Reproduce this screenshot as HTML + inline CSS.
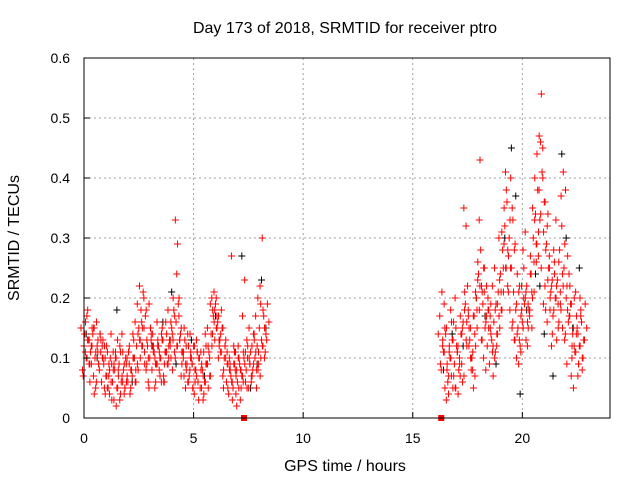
<!DOCTYPE html>
<html><head><meta charset="utf-8"><style>
body{margin:0;background:#fff;}
svg{display:block;font-family:"Liberation Sans",sans-serif;}
</style></head><body>
<svg id="chart" width="640" height="480" xmlns="http://www.w3.org/2000/svg">
<rect width="640" height="480" fill="#fff"/>
<text x="345" y="33" font-size="16" text-anchor="middle">Day 173 of 2018, SRMTID for receiver ptro</text>
<text transform="translate(19,238) rotate(-90)" font-size="16" text-anchor="middle">SRMTID / TECUs</text>
<text x="345" y="471" font-size="16" text-anchor="middle">GPS time / hours</text>
<g id="grid"></g><g id="marks"></g><g id="axes"></g>
</svg>
<script>
const xTicks=[0,5,10,15,20];
const yTicks=[0,0.1,0.2,0.3,0.4,0.5,0.6];
const yTickLabels=["0","0.1","0.2","0.3","0.4","0.5","0.6"];
const redTimes=[0.0,0.1,0.2,0.3,0.4,0.5,0.6,0.7,0.8,0.9,1.0,1.1,1.2,1.3,1.4,1.5,1.6,1.7,1.8,1.9,2.0,2.1,2.2,2.3,2.4,2.5,2.6,2.7,2.8,2.9,3.0,3.1,3.2,3.3,3.4,3.5,3.6,3.7,3.8,3.9,4.0,4.1,4.2,4.3,4.4,4.5,4.6,4.7,4.8,4.9,5.0,5.1,5.2,5.3,5.4,5.5,5.6,5.7,5.8,5.9,6.0,6.1,6.2,6.3,6.4,6.5,6.6,6.7,6.8,6.9,7.0,7.1,7.2,7.3,7.4,7.5,7.6,7.7,7.8,7.9,8.0,8.1,8.2,8.3,
16.3,16.4,16.5,16.6,16.7,16.8,16.9,17.0,17.1,17.2,17.3,17.4,17.5,17.6,17.7,17.8,17.9,18.0,18.1,18.2,18.3,18.4,18.5,18.6,18.7,18.8,18.9,19.0,19.1,19.2,19.3,19.4,19.5,19.6,19.7,19.8,19.9,20.0,20.1,20.2,20.3,20.4,20.5,20.6,20.7,20.8,20.9,21.0,21.1,21.2,21.3,21.4,21.5,21.6,21.7,21.8,21.9,22.0,22.1,22.2,22.3,22.4,22.5,22.6,22.7,22.8];
const redValuesA=[.12,.10,.13,.11,.14,.10,.12,.08,.06,.09,.07,.05,.10,.06,.08,.05,.09,.06,.08,.10,.06,.04,.07,.10,.12,.15,.18,.21,.17,.12,.10,.08,.11,.09,.12,.10,.13,.11,.09,.13,.15,.18,.16,.19,.14,.11,.13,.09,.07,.10,.12,.08,.06,.05,.08,.06,.09,.11,.14,.17,.19,.16,.13,.15,.10,.06,.04,.07,.05,.08,.06,.09,.07,.10,.08,.05,.11,.08,.10,.12,.15,.13,.17,.14,
.08,.11,.14,.06,.10,.13,.09,.12,.08,.14,.16,.19,.22,.13,.10,.17,.20,.24,.28,.19,.15,.12,.09,.13,.16,.19,.21,.24,.28,.32,.36,.30,.25,.21,.18,.15,.12,.16,.19,.22,.18,.24,.30,.34,.38,.33,.41,.36,.29,.25,.21,.17,.20,.23,.28,.32,.25,.20,.16,.19,.14,.11,.15,.12,.16,.13];
const redValuesB=[.16,.18,.06,.15,.04,.16,.09,.13,.10,.04,.11,.08,.03,.09,.02,.07,.04,.11,.05,.07,.12,.08,.13,.06,.08,.10,.12,.09,.13,.19,.14,.12,.06,.13,.07,.15,.09,.14,.12,.10,.20,.33,.29,.13,.09,.15,.08,.12,.11,.05,.06,.11,.10,.09,.04,.12,.05,.07,.18,.13,.15,.12,.18,.08,.13,.09,.08,.03,.09,.02,.10,.05,.11,.06,.12,.09,.07,.13,.05,.09,.10,.18,.11,.19,
.13,.05,.09,.12,.16,.07,.15,.04,.17,.06,.21,.12,.15,.08,.05,.12,.26,.43,.21,.25,.22,.18,.14,.07,.11,.14,.15,.18,.35,.38,.27,.40,.33,.29,.24,.22,.18,.25,.13,.15,.27,.35,.40,.44,.47,.54,.31,.28,.34,.20,.14,.24,.13,.16,.37,.41,.38,.27,.22,.12,.20,.17,.09,.18,.10,.19];
const redValuesC=[.08,.14,.17,.09,.12,.07,.05,.11,.14,.12,.05,.12,.07,.14,.11,.10,.13,.03,.14,.04,.09,.11,.05,.14,.16,.19,.22,.16,.20,.08,.06,.15,.14,.05,.16,.08,.06,.07,.16,.18,.12,.14,.11,.24,.17,.07,.10,.05,.14,.08,.09,.04,.13,.03,.11,.03,.14,.15,.10,.20,.21,.20,.10,.11,.07,.12,.11,.10,.27,.12,.04,.12,.03,.17,.23,.13,.15,.06,.14,.17,.20,.22,.30,.10,
.17,.21,.19,.03,.04,.18,.05,.20,.11,.10,.09,.35,.32,.18,.15,.08,.14,.18,.33,.13,.10,.08,.20,.17,.22,.25,.12,.30,.21,.25,.41,.22,.18,.15,.13,.10,.09,.11,.28,.31,.12,.17,.21,.26,.29,.27,.46,.45,.22,.16,.27,.12,.28,.33,.19,.21,.15,.13,.09,.24,.07,.05,.21,.07,.20,.08];
const redValuesD=[.10,.13,.09,.15,.11,.13,.14,.10,.12,.07,.09,.06,.08,.11,.05,.12,.07,.09,.06,.11,.08,.10,.06,.09,.13,.12,.15,.18,.10,.15,.12,.10,.09,.11,.14,.06,.11,.09,.13,.08,.17,.12,.20,.15,.11,.09,.06,.14,.09,.12,.07,.10,.08,.07,.06,.09,.07,.12,.16,.15,.17,.14,.15,.12,.09,.08,.06,.09,.07,.10,.08,.07,.09,.05,.10,.07,.09,.11,.08,.07,.12,.15,.13,.16,
.11,.15,.07,.10,.13,.05,.11,.09,.14,.07,.13,.17,.10,.11,.07,.15,.18,.22,.25,.16,.18,.15,.11,.10,.14,.17,.18,.21,.25,.28,.33,.35,.28,.19,.21,.17,.15,.20,.16,.18,.15,.21,.26,.31,.34,.40,.36,.32,.25,.22,.18,.20,.15,.19,.24,.29,.22,.17,.19,.15,.11,.14,.12,.10,.13,.15];
const redValuesE=[.15,.07,.11,.13,.09,.12,.15,.06,.09,.11,.13,.10,.05,.04,.09,.03,.10,.08,.11,.06,.05,.10,.09,.08,.10,.08,.14,.13,.15,.11,.09,.05,.13,.11,.09,.12,.10,.13,.06,.11,.10,.16,.13,.10,.12,.13,.11,.07,.12,.06,.10,.05,.08,.11,.10,.05,.11,.09,.12,.19,.14,.18,.17,.13,.11,.05,.10,.05,.09,.06,.11,.08,.05,.08,.06,.11,.10,.09,.12,.14,.08,.11,.19,.12,
.14,.09,.12,.15,.08,.11,.07,.16,.05,.12,.07,.15,.18,.16,.12,.10,.17,.21,.23,.22,.13,.21,.17,.15,.19,.12,.18,.19,.23,.31,.29,.25,.21,.25,.16,.13,.14,.13,.22,.20,.21,.19,.24,.20,.33,.29,.38,.25,.19,.18,.23,.18,.23,.26,.22,.26,.18,.22,.14,.18,.17,.10,.12,.14,.09,.17];
const blackTimes=[0.1,0.6,1.5,2.2,3.1,3.6,4.0,4.2,4.9,5.5,6.0,6.9,7.2,7.6,7.9,8.1,8.3,16.4,16.8,17.3,17.9,18.3,18.8,19.2,19.5,19.7,19.9,20.2,20.6,20.8,21.0,21.4,21.8,22.0,22.3,22.6];
const blackValues=[.14,.10,.18,.06,.12,.16,.21,.09,.13,.07,.17,.11,.27,.05,.09,.23,.15,.08,.14,.12,.20,.17,.09,.30,.45,.37,.04,.18,.24,.22,.14,.07,.44,.30,.15,.25];
const squareTimes=[7.3,16.3];
const squareValues=[0,0];

const L=84,R=610,T=58,B=418,XMAX=24,YMAX=0.6;
const xs=v=>L+v/XMAX*(R-L), ys=v=>B-v/YMAX*(B-T);
const NS="http://www.w3.org/2000/svg";
function mk(tag,attrs,parent){const e=document.createElementNS(NS,tag);for(const k in attrs)e.setAttribute(k,attrs[k]);parent.appendChild(e);return e;}
const grid=document.getElementById('grid'),marks=document.getElementById('marks'),axes=document.getElementById('axes');
xTicks.forEach(t=>{
  const g=mk('line',{x1:xs(t),x2:xs(t),y1:T,y2:B,stroke:'#a0a0a0','stroke-dasharray':'2,3'},grid);
  
  
  const tk=mk('line',{x1:xs(t),x2:xs(t),y1:B,y2:B-6,stroke:'#000'},axes);
  
  
  const tx=mk('text',{x:xs(t),y:B+25,'font-size':14,'text-anchor':'middle'},axes);
  tx.textContent=String(t);
  
  
});
yTicks.forEach((t,i)=>{
  const g=mk('line',{x1:L,x2:R,y1:ys(t),y2:ys(t),stroke:'#a0a0a0','stroke-dasharray':'2,3'},grid);
  
  
  const tk=mk('line',{x1:L,x2:L+6,y1:ys(t),y2:ys(t),stroke:'#000'},axes);
  
  
  const tx=mk('text',{x:L-14,y:ys(t)+5,'font-size':14,'text-anchor':'end'},axes);
  tx.textContent=yTickLabels[i];
  
  
});
const frame=mk('rect',{x:L,y:T,width:R-L,height:B-T,fill:'none',stroke:'#000'},axes);


function plus(t,v,col,dx){
  const x=xs(t)+dx,y=ys(v);
  const p=mk('path',{d:`M${x-3.5},${y}h7M${x},${y-3.5}v7`,stroke:col,'stroke-width':1,fill:'none'},marks);
  
  
}
blackTimes.forEach((t,i)=>plus(t,blackValues[i],'#000',0));
redTimes.forEach((t,i)=>{
  plus(t,redValuesA[i],'#ff0000',0);
  plus(t,redValuesB[i],'#ff0000',1.5);
  plus(t,redValuesC[i],'#ff0000',-1.5);
  plus(t,redValuesD[i],'#ff0000',3);
  plus(t,redValuesE[i],'#ff0000',-3);
});
squareTimes.forEach((t,i)=>{
  const s=mk('rect',{x:xs(t)-3,y:ys(squareValues[i])-3,width:6,height:6,fill:'#ff0000'},marks);
  
  
});
</script>
</body></html>
